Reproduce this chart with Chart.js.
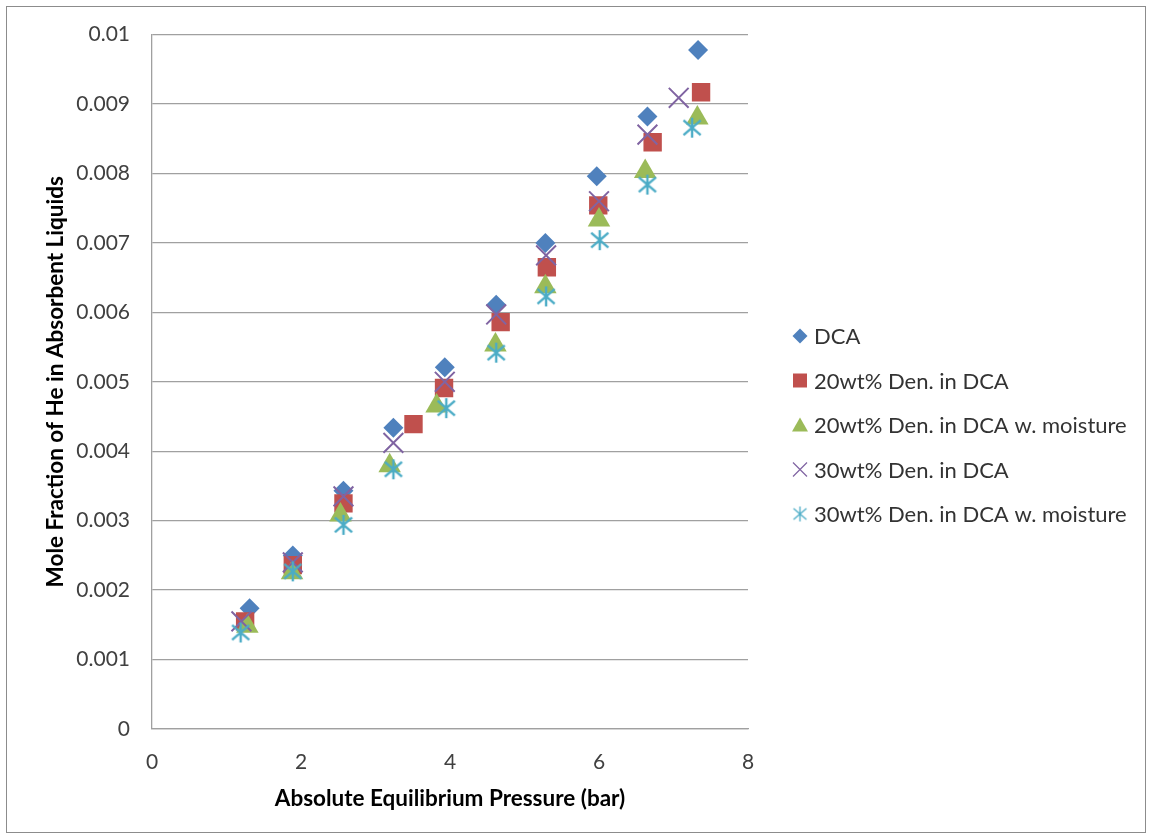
<!DOCTYPE html>
<html>
<head>
<meta charset="utf-8">
<title>Mole Fraction of He in Absorbent Liquids</title>
<script src="https://cdn.jsdelivr.net/npm/chart.js@4.4.1/dist/chart.umd.min.js"></script>
<style>
  html, body { margin: 0; padding: 0; background: #ffffff; }
  #wrap { position: relative; width: 1152px; height: 839px; }
</style>
</head>
<body>
<div id="wrap"><canvas id="chart" width="1152" height="839"></canvas></div>
<script>
// Series names, in legend order
const seriesNames = [
  'DCA',
  '20wt% Den. in DCA',
  '20wt% Den. in DCA w. moisture',
  '30wt% Den. in DCA',
  '30wt% Den. in DCA w. moisture'
];

// Absolute equilibrium pressure (bar) and He mole fraction for each series
const dcaPressure = [1.31, 1.89, 2.57, 3.24, 3.93, 4.62, 5.28, 5.97, 6.65, 7.33];
const dcaFraction = [0.00174, 0.00250, 0.00343, 0.00434, 0.00521, 0.00611, 0.00700, 0.00796, 0.00882, 0.00978];

const den20Pressure = [1.25, 1.89, 2.57, 3.51, 3.92, 4.68, 5.30, 5.99, 6.72, 7.37];
const den20Fraction = [0.00155, 0.00236, 0.00325, 0.00439, 0.00491, 0.00586, 0.00665, 0.00754, 0.00845, 0.00917];

const den20MoistPressure = [1.28, 1.88, 2.53, 3.19, 3.82, 4.61, 5.28, 6.00, 6.62, 7.32];
const den20MoistFraction = [0.00148, 0.00225, 0.00308, 0.00379, 0.00465, 0.00553, 0.00637, 0.00733, 0.00803, 0.00880];

const den30Pressure = [1.20, 1.89, 2.57, 3.24, 3.93, 4.62, 5.29, 6.00, 6.65, 7.07];
const den30Fraction = [0.00155, 0.00240, 0.00335, 0.00412, 0.00500, 0.00597, 0.00682, 0.00760, 0.00856, 0.00909];

const den30MoistPressure = [1.19, 1.89, 2.57, 3.24, 3.95, 4.62, 5.29, 6.01, 6.65, 7.25];
const den30MoistFraction = [0.00139, 0.00227, 0.00294, 0.00374, 0.00462, 0.00542, 0.00623, 0.00704, 0.00784, 0.00866];

// Axis ticks
const xTicks = [0, 2, 4, 6, 8];
const yTicks = [0, 0.001, 0.002, 0.003, 0.004, 0.005, 0.006, 0.007, 0.008, 0.009, 0.01];

const colors = ['#4F81BD', '#C0504D', '#9BBB59', '#8064A2', '#4BACC6'];

function toPoints(xs, ys) {
  return xs.map((x, i) => ({ x: x, y: ys[i] }));
}

// Asterisk marker (vertical bar plus two diagonals), drawn once into a small canvas
function makeAsterisk(size, lw, color) {
  const c = document.createElement('canvas');
  c.width = size; c.height = size;
  const g = c.getContext('2d');
  const m = size / 2;
  const hv = size / 2 - 1;
  const dx = hv * 0.86, dy = hv * 0.74;
  g.strokeStyle = color;
  g.lineWidth = lw;
  g.lineCap = 'butt';
  g.beginPath();
  g.moveTo(m, m - hv); g.lineTo(m, m + hv);
  g.moveTo(m - dx, m - dy); g.lineTo(m + dx, m + dy);
  g.moveTo(m - dx, m + dy); g.lineTo(m + dx, m - dy);
  g.stroke();
  return c;
}
const asteriskBig = makeAsterisk(22, 2.4, colors[4]);
const asteriskSmall = makeAsterisk(17, 1.3, colors[4]);

const FONT = 'Lato, "Open Sans", sans-serif';

// Frame around the whole chart
const framePlugin = {
  id: 'frame',
  beforeDraw(chart) {
    const ctx = chart.ctx;
    ctx.save();
    ctx.fillStyle = '#ffffff';
    ctx.fillRect(0, 0, chart.width, chart.height);
    ctx.strokeStyle = '#8c8c8c';
    ctx.lineWidth = 1;
    ctx.strokeRect(6.5, 6.5, chart.width - 13, chart.height - 13);
    ctx.restore();
  }
};

// Legend drawn to the right of the plot area
const sideLegend = {
  id: 'sideLegend',
  afterDraw(chart) {
    const ctx = chart.ctx;
    const area = chart.chartArea;
    const mx = area.right + 52;
    const tx = area.right + 66;
    const y0 = 336;
    const gap = 44.5;
    ctx.save();
    ctx.font = '22px ' + FONT;
    ctx.textBaseline = 'middle';
    ctx.textAlign = 'left';
    seriesNames.forEach((name, i) => {
      const y = y0 + i * gap;
      ctx.fillStyle = colors[i];
      ctx.strokeStyle = colors[i];
      ctx.beginPath();
      if (i === 0) {
        const r = 7.5;
        ctx.moveTo(mx - r, y); ctx.lineTo(mx, y - r); ctx.lineTo(mx + r, y); ctx.lineTo(mx, y + r);
        ctx.closePath(); ctx.fill();
      } else if (i === 1) {
        ctx.rect(mx - 7, y - 7, 14, 14); ctx.fill();
      } else if (i === 2) {
        ctx.moveTo(mx, y - 7.5); ctx.lineTo(mx + 8, y + 6.5); ctx.lineTo(mx - 8, y + 6.5);
        ctx.closePath(); ctx.fill();
      } else if (i === 3) {
        ctx.lineWidth = 1.2;
        ctx.moveTo(mx - 7, y - 7); ctx.lineTo(mx + 7, y + 7);
        ctx.moveTo(mx - 7, y + 7); ctx.lineTo(mx + 7, y - 7);
        ctx.stroke();
      } else {
        ctx.drawImage(asteriskSmall, mx - asteriskSmall.width / 2, y - asteriskSmall.height / 2);
      }
      ctx.fillStyle = '#333333';
      ctx.fillText(name, tx, y + 1);
    });
    ctx.restore();
  }
};

const datasets = [
  { label: seriesNames[0], data: toPoints(dcaPressure, dcaFraction), pointStyle: 'rectRot', pointRadius: 10,
    backgroundColor: colors[0], borderColor: colors[0], borderWidth: 0, order: 5 },
  { label: seriesNames[1], data: toPoints(den20Pressure, den20Fraction), pointStyle: 'rect', pointRadius: 13,
    backgroundColor: colors[1], borderColor: colors[1], borderWidth: 0, order: 4 },
  { label: seriesNames[2], data: toPoints(den20MoistPressure, den20MoistFraction), pointStyle: 'triangle', pointRadius: 13,
    backgroundColor: colors[2], borderColor: colors[2], borderWidth: 0, order: 3 },
  { label: seriesNames[3], data: toPoints(den30Pressure, den30Fraction), pointStyle: 'crossRot', pointRadius: 14,
    backgroundColor: colors[3], borderColor: colors[3], borderWidth: 2, order: 2 },
  { label: seriesNames[4], data: toPoints(den30MoistPressure, den30MoistFraction), pointStyle: asteriskBig, pointRadius: 11,
    backgroundColor: colors[4], borderColor: colors[4], borderWidth: 0, order: 1 }
];

new Chart(document.getElementById('chart'), {
  type: 'scatter',
  data: { datasets: datasets },
  plugins: [framePlugin, sideLegend],
  options: {
    responsive: false,
    animation: false,
    devicePixelRatio: 1,
    layout: { padding: { top: 34, right: 404, bottom: 0, left: 0 } },
    plugins: { legend: { display: false }, tooltip: { enabled: false } },
    elements: { point: { hoverRadius: 0 } },
    scales: {
      x: {
        type: 'linear',
        min: 0, max: 8,
        afterBuildTicks(scale) { scale.ticks = xTicks.map(v => ({ value: v })); },
        afterFit(scale) { scale.height = 110; },
        grid: { color: 'rgba(0,0,0,0)', drawTicks: false },
        border: { display: true, color: '#a0a0a0', width: 1.3 },
        ticks: { padding: 21, color: '#404040', font: { family: FONT, size: 21 }, callback: v => String(v) },
        title: { display: true, text: 'Absolute Equilibrium Pressure (bar)', color: '#000000',
          font: { family: FONT, size: 22.5, weight: 'bold' }, padding: { top: 0, bottom: 27 } }
      },
      y: {
        type: 'linear',
        min: 0, max: 0.01,
        afterBuildTicks(scale) { scale.ticks = yTicks.map(v => ({ value: v })); },
        afterFit(scale) { scale.width = 152; },
        grid: { color: '#a0a0a0', lineWidth: 1.3, drawTicks: false },
        border: { display: true, color: '#a0a0a0', width: 1.3 },
        ticks: { padding: 22, color: '#404040', font: { family: FONT, size: 21 },
          callback: v => String(+v.toFixed(3)) },
        title: { display: true, text: 'Mole Fraction of He in Absorbent Liquids', color: '#000000',
          font: { family: FONT, size: 22.5, weight: 'bold' }, padding: { top: 42, bottom: 0 } }
      }
    }
  }
});
</script>
</body>
</html>
